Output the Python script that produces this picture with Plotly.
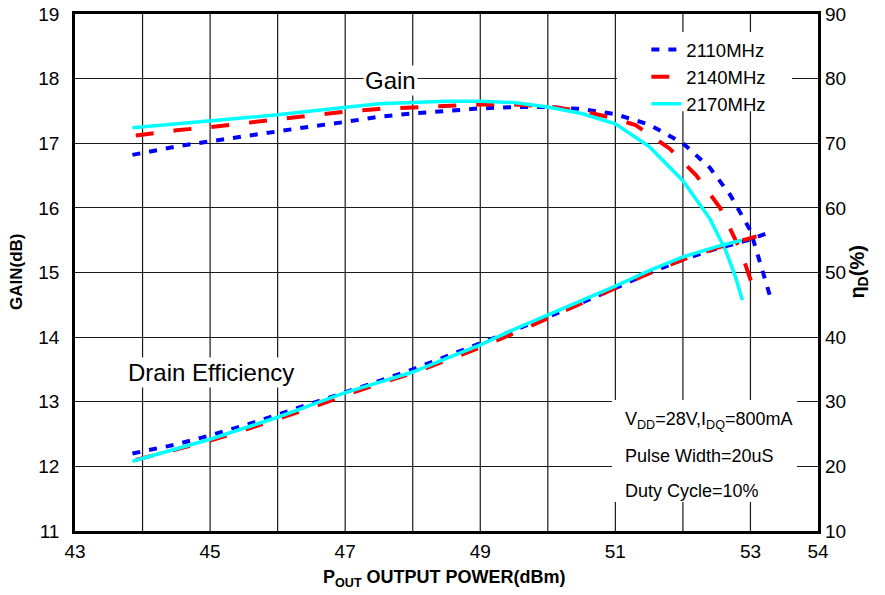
import plotly.graph_objects as go

# ---------------- data ----------------
gain_x_2110 = [43.85, 44.5, 45.0, 45.5, 46.0, 46.5, 47.0, 47.5, 48.0, 48.5, 49.0, 49.5, 50.0, 50.5, 51.0, 51.5, 52.0, 52.4, 52.7, 53.0, 53.15, 53.3]
gain_2110 = [16.82, 16.95, 17.03, 17.11, 17.19, 17.26, 17.33, 17.41, 17.46, 17.50, 17.54, 17.56, 17.56, 17.53, 17.45, 17.29, 17.0, 16.62, 16.2, 15.65, 15.1, 14.6]

gain_x_2140 = [43.9, 44.5, 45.0, 45.5, 46.0, 46.5, 47.0, 47.5, 48.0, 48.5, 49.0, 49.5, 50.0, 50.5, 51.0, 51.3, 51.8, 52.2, 52.55, 52.85, 53.07]
gain_2140 = [17.12, 17.2, 17.25, 17.31, 17.38, 17.44, 17.49, 17.53, 17.55, 17.58, 17.6, 17.6, 17.57, 17.5, 17.38, 17.28, 16.92, 16.5, 16.0, 15.35, 14.68]

gain_x_2170 = [43.85, 44.5, 45.0, 45.5, 46.0, 46.5, 47.0, 47.5, 48.0, 48.5, 49.0, 49.5, 50.0, 50.5, 51.0, 51.5, 52.0, 52.4, 52.63, 52.78, 52.88]
gain_2170 = [17.24, 17.3, 17.34, 17.39, 17.44, 17.5, 17.56, 17.61, 17.63, 17.65, 17.65, 17.63, 17.56, 17.46, 17.3, 16.95, 16.42, 15.83, 15.35, 14.93, 14.57]

eff_x_2110 = [43.85, 44.5, 45.0, 45.5, 46.0, 46.5, 47.0, 47.5, 48.0, 48.5, 49.0, 49.5, 50.0, 50.5, 51.0, 51.5, 52.0, 52.5, 53.0, 53.25]
eff_2110 = [22.0, 23.4, 24.8, 26.3, 28.0, 29.7, 31.5, 33.2, 35.0, 37.0, 39.0, 41.0, 43.1, 45.3, 47.6, 49.9, 52.0, 53.7, 55.1, 56.1]

eff_x_2140 = [43.9, 44.5, 45.0, 45.5, 46.0, 46.5, 47.0, 47.5, 48.0, 48.5, 49.0, 49.5, 50.0, 50.5, 51.0, 51.5, 52.0, 52.5, 53.09]
eff_2140 = [21.0, 22.6, 24.0, 25.6, 27.3, 29.1, 31.0, 32.8, 34.4, 36.4, 38.4, 40.6, 42.9, 45.2, 47.5, 49.9, 52.0, 53.8, 55.6]

eff_x_2170 = [43.85, 44.5, 45.0, 45.5, 46.0, 46.5, 47.0, 47.5, 48.0, 48.5, 49.0, 49.5, 50.0, 50.5, 51.0, 51.5, 52.0, 52.5, 52.87]
eff_2170 = [20.8, 22.7, 24.2, 25.9, 27.6, 29.5, 31.4, 33.0, 34.6, 36.7, 38.8, 41.2, 43.4, 45.6, 47.9, 50.3, 52.4, 54.0, 55.0]

series_names = ["2110MHz", "2140MHz", "2170MHz"]
x_tickvals = [43, 45, 47, 49, 51, 53, 54]
gain_ticks = [11, 12, 13, 14, 15, 16, 17, 18, 19]
eff_ticks = [10, 20, 30, 40, 50, 60, 70, 80, 90]

# ---------------- styles ----------------
colors = ["#0000FF", "#FF0000", "#00FFFF"]
dashes = ["8px,9px", "18px,20px", "solid"]
widths = [4, 4, 3.5]
FONT = "Liberation Sans, Arial, sans-serif"

fig = go.Figure()

gain_sets = [(gain_x_2110, gain_2110), (gain_x_2140, gain_2140), (gain_x_2170, gain_2170)]
eff_sets = [(eff_x_2110, eff_2110), (eff_x_2140, eff_2140), (eff_x_2170, eff_2170)]

for i, name in enumerate(series_names):
    gx, gy = gain_sets[i]
    fig.add_trace(go.Scatter(x=gx, y=gy, mode="lines", name=name, legendgroup=name,
                             line=dict(color=colors[i], dash=dashes[i], width=widths[i]),
                             yaxis="y"))
for i, name in enumerate(series_names):
    ex, ey = eff_sets[i]
    fig.add_trace(go.Scatter(x=ex, y=ey, mode="lines", name=name, legendgroup=name,
                             showlegend=False,
                             line=dict(color=colors[i], dash=dashes[i], width=widths[i]),
                             yaxis="y2"))

grid_col = "#1a1a1a"

fig.update_layout(
    width=885, height=595,
    margin=dict(l=75, r=67, t=14, b=64, autoexpand=False),
    paper_bgcolor="white", plot_bgcolor="white",
    font=dict(family=FONT, color="black", size=19),
    showlegend=True,
    legend=dict(x=0.769, y=0.967, xanchor="left", yanchor="top",
                bgcolor="rgba(255,255,255,0)", borderwidth=0,
                font=dict(family=FONT, size=18.5, color="black"),
                tracegroupgap=0),
    xaxis=dict(range=[43, 54], tickvals=x_tickvals, ticktext=[str(v) for v in x_tickvals],
               showgrid=False, zeroline=False, automargin=False,
               showline=True, linecolor="black", linewidth=2.5, mirror=True,
               ticks="", ticklabelstandoff=1, tickfont=dict(size=19)),
    yaxis=dict(range=[11, 19], tickvals=gain_ticks, showgrid=True, gridcolor=grid_col,
               gridwidth=1.2, zeroline=False, showline=True, linecolor="black",
               linewidth=2.5, mirror=True, ticks="", automargin=False,
               ticklabelstandoff=9, tickfont=dict(size=19)),
    yaxis2=dict(range=[10, 90], tickvals=eff_ticks, overlaying="y", side="right",
                showgrid=False, zeroline=False, showline=False, ticks="", automargin=False,
                ticklabelstandoff=6, tickfont=dict(size=19)),
)

# vertical gridlines every 1 dBm (drawn as layout shapes below traces)
for v in range(44, 54):
    fig.add_shape(type="line", xref="x", yref="paper", x0=v, x1=v, y0=0, y1=1,
                  line=dict(color=grid_col, width=1.2), layer="below")

# white boxes that interrupt the grid (legend area and condition box)
fig.add_shape(type="rect", xref="paper", yref="paper", x0=0.7295, x1=0.965, y0=0.812, y1=0.965,
              fillcolor="white", line=dict(width=0), layer="above")
fig.add_shape(type="rect", xref="paper", yref="paper", x0=0.7227, x1=0.9717, y0=0.0561, y1=0.2534,
              fillcolor="white", line=dict(width=0), layer="above")

# axis titles
fig.add_annotation(text="<b>GAIN(dB)</b>", xref="paper", yref="paper", x=-0.078, y=0.501,
                   xanchor="center", yanchor="middle",
                   textangle=-90, showarrow=False, font=dict(family=FONT, size=17))
fig.add_annotation(text="<b>η<sub>D</sub>(%)</b>", xref="paper", yref="paper", x=1.054, y=0.5,
                   xanchor="center", yanchor="middle",
                   textangle=-90, showarrow=False, font=dict(family=FONT, size=20))
fig.add_annotation(text="<b>P<sub>OUT</sub> OUTPUT POWER(dBm)</b>", xref="paper", yref="paper",
                   x=0.497, y=-0.091, xanchor="center", yanchor="middle",
                   showarrow=False, font=dict(family=FONT, size=18))

ann_font = dict(family=FONT, size=24, color="black")
fig.add_annotation(text="Gain", xref="paper", yref="paper", x=0.424, y=0.872,
                   xanchor="center", yanchor="middle",
                   showarrow=False, font=ann_font, bgcolor="white")
fig.add_annotation(text="Drain Efficiency", xref="paper", yref="paper", x=0.183, y=0.306,
                   xanchor="center", yanchor="middle",
                   showarrow=False, font=ann_font, bgcolor="white")

box_font = dict(family=FONT, size=18, color="black")
box_lines = ["V<sub>DD</sub>=28V,I<sub>DQ</sub>=800mA", "Pulse Width=20uS", "Duty Cycle=10%"]
box_y = [0.2147, 0.145, 0.0774]
for t, yy in zip(box_lines, box_y):
    fig.add_annotation(text=t, xref="paper", yref="paper", x=0.7376, y=yy,
                       xanchor="left", yanchor="middle", showarrow=False, font=box_font)

# remove the default 8px page margin so the 885x595 figure fills the window exactly
fig.write_html("out.html", config={"displayModeBar": False},
               post_script="document.body.style.margin='0';")
